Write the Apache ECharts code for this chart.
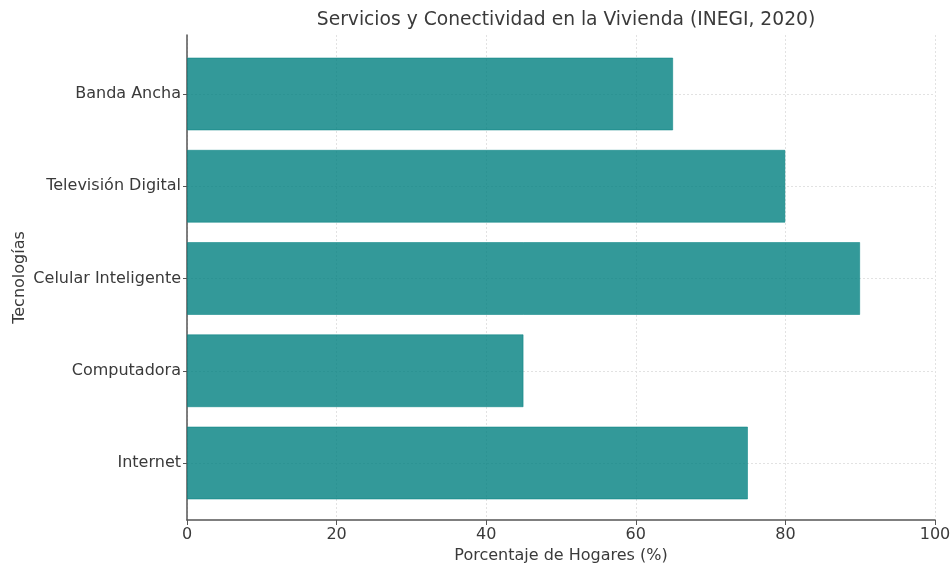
<!DOCTYPE html>
<html>
<head>
<meta charset="utf-8">
<script src="https://cdn.jsdelivr.net/npm/echarts@6/dist/echarts.min.js"></script>
<style>html,body{margin:0;padding:0;background:#fff}#c{width:950px;height:565px}</style>
</head>
<body>
<div id="c"></div>
<script>
const categories = ['Internet', 'Computadora', 'Celular Inteligente', 'Televisión Digital', 'Banda Ancha'];
const values = [75, 45, 90, 80, 65];
const xTicks = { min: 0, max: 100, interval: 20 };

const FONT = 'DejaVu Sans';
const TXT = '#3a3a3a';
const AX = '#555';
const GRID = '#e2e2e2';
const chart = echarts.init(document.getElementById('c'), null, { renderer: 'canvas' });
chart.setOption({
  animation: false,
  backgroundColor: '#fff',
  textStyle: { fontFamily: FONT },
  title: {
    text: 'Servicios y Conectividad en la Vivienda (INEGI, 2020)',
    left: 561, top: 6, textAlign: 'center',
    textStyle: { fontFamily: FONT, fontSize: 18.7, fontWeight: 'normal', color: TXT }
  },
  grid: [
    { left: 187, right: 15, top: 35, bottom: 45, containLabel: false, outerBoundsMode: 'none' },
    { left: 187, right: 15, top: 94, bottom: 102, containLabel: false, outerBoundsMode: 'none' }
  ],
  xAxis: [
    {
      gridIndex: 0, type: 'value', min: xTicks.min, max: xTicks.max, interval: xTicks.interval,
      name: 'Porcentaje de Hogares (%)', nameLocation: 'middle', nameGap: 22,
      nameTextStyle: { fontFamily: FONT, fontSize: 16, color: TXT },
      axisLine: { show: true, lineStyle: { color: AX, width: 1.5 } },
      axisTick: { show: true, length: 5, lineStyle: { color: AX } },
      axisLabel: { fontFamily: FONT, fontSize: 16, color: TXT, margin: 7 },
      splitLine: { show: true, lineStyle: { color: GRID, type: [2, 2], width: 1 } }
    },
    {
      gridIndex: 1, type: 'value', min: xTicks.min, max: xTicks.max, show: false
    }
  ],
  yAxis: [
    {
      gridIndex: 0, type: 'value', min: 0, max: 1,
      name: 'Tecnologías', nameLocation: 'middle', nameGap: 159, nameRotate: 90,
      nameTextStyle: { fontFamily: FONT, fontSize: 16, color: TXT },
      axisLine: { show: true, lineStyle: { color: AX, width: 1.5 } },
      axisTick: { show: false }, axisLabel: { show: false }, splitLine: { show: false }
    },
    {
      gridIndex: 1, type: 'category', data: categories, boundaryGap: false,
      axisLine: { show: false },
      axisTick: { show: true, length: 4, lineStyle: { color: AX } },
      axisLabel: { fontFamily: FONT, fontSize: 16, color: TXT, margin: 6 },
      splitLine: { show: true, lineStyle: { color: GRID, type: [2, 2], width: 1 } }
    }
  ],
  series: [{
    type: 'bar', xAxisIndex: 1, yAxisIndex: 1, data: values,
    barWidth: 73, clip: false,
    itemStyle: { color: 'rgba(0,128,128,0.8)', borderColor: 'rgba(0,128,128,0.5)', borderWidth: 1 }
  }]
});
</script>
</body>
</html>
